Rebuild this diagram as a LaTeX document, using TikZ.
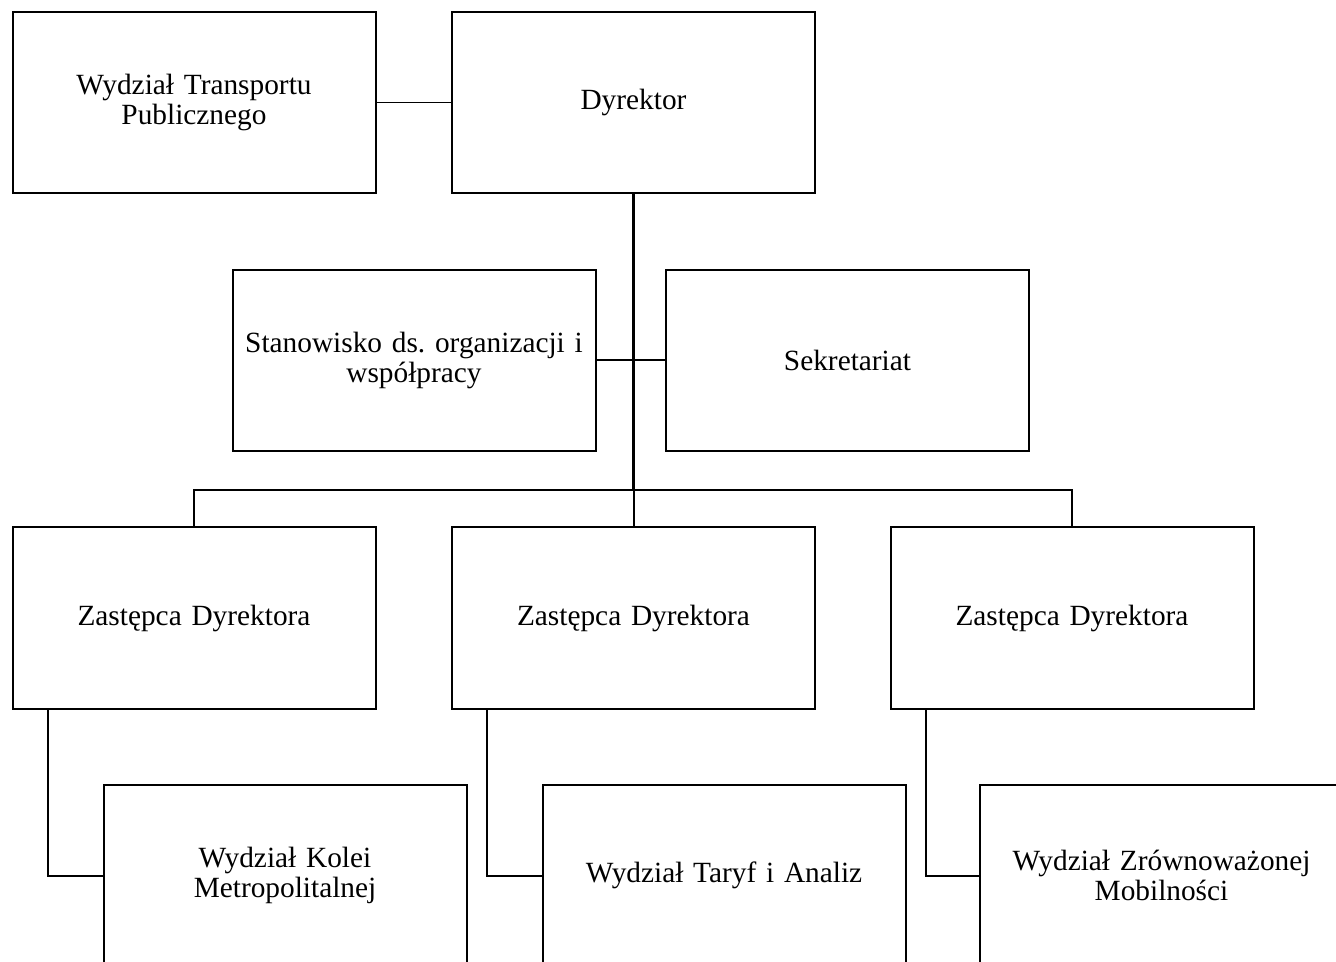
\documentclass[tikz,border=0pt]{standalone}
\usepackage{fontspec}
\setmainfont{Liberation Serif}
\frenchspacing
\usetikzlibrary{positioning}

\tikzset{
  unit/.style={draw=black, line width=1.5pt, fill=white, minimum width=272.25pt,
    minimum height=135.75pt, text width=265pt, align=center, inner sep=0pt,
    font=\fontsize{22}{22.5}\selectfont},
  link/.style={line width=1.5pt},
  mainlink/.style={line width=2.3pt},
  sidelink/.style={line width=0.9pt},
}

\begin{document}
\begin{tikzpicture}[x=0.75pt,y=-0.75pt]
    \clip (0,0) rectangle (1336,962);
    \fill[white] (0,0) rectangle (1336,962);

    % top row
    \node[unit] (dyr) at (633.5,102.5) {Dyrektor};
    \node[unit] (wtp) at (194,102.5) {Wydział Transportu\\Publicznego};
    % staff units
    \node[unit] (stan) at (414,360.5) {Stanowisko ds. organizacji i\\współpracy};
    \node[unit] (sek) at (847.5,360.5) {Sekretariat};
    % deputies
    \node[unit] (zd1) at (194,618) {Zastępca Dyrektora};
    \node[unit] (zd2) at (633.5,618) {Zastępca Dyrektora};
    \node[unit] (zd3) at (1072,618) {Zastępca Dyrektora};
    % departments
    \node[unit] (wkm) at (285,875.5) {Wydział Kolei\\Metropolitalnej};
    \node[unit] (wta) at (724,875.5) {Wydział Taryf i Analiz};
    \node[unit] (wzm) at (1161.5,875.5) {Wydział Zrównoważonej\\Mobilności};

    \coordinate (bus) at (633.5,490);

    \draw[sidelink] (wtp.east) -- (dyr.west);
    \draw[link] (stan.east) -- (sek.west);
    \draw[mainlink] (dyr.south) -- (bus);
    \draw[link] (zd1.north) |- (bus) -| (zd3.north);
    \draw[link] (bus) -- (zd2.north);

    \draw[link] ([xshift=27pt]zd1.south west) |- (wkm.west);
    \draw[link] ([xshift=27pt]zd2.south west) |- (wta.west);
    \draw[link] ([xshift=27pt]zd3.south west) |- (wzm.west);
\end{tikzpicture}
\end{document}
